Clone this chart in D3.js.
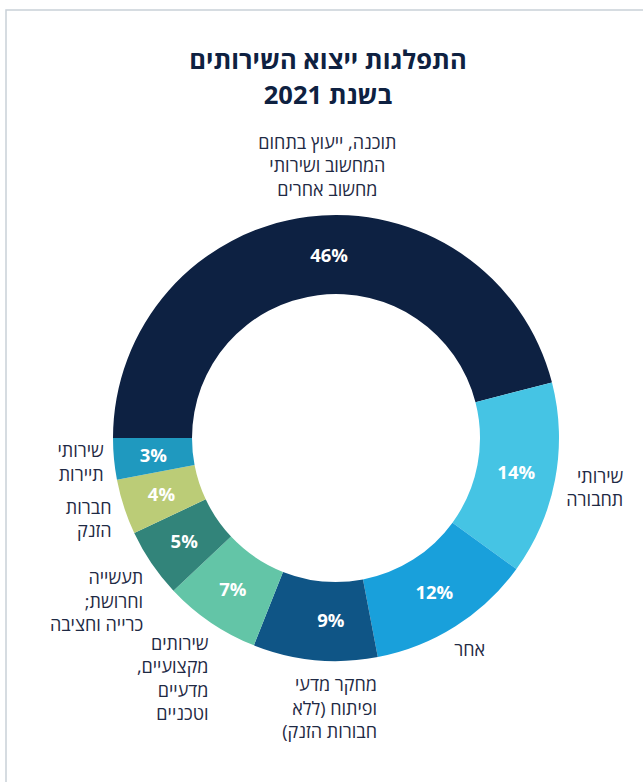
<!DOCTYPE html>
<meta charset="utf-8">
<style>
html, body {
  margin: 0;
  background: #fff;
}

.chart {
  display: block;
  font-family: "Open Sans", "DejaVu Sans", sans-serif;
}

.chart .frame {
  fill: none;
  stroke: #c9d1d8;
  stroke-width: 1.5;
}

.chart .title {
  fill: #0e2141;
  font-size: 25.5px;
  font-weight: 700;
}

.chart .pct {
  fill: #fff;
  font-size: 18.5px;
  font-weight: 700;
}

.chart .cat {
  fill: #1f2a44;
  font-size: 18px;
}
</style>
<body>
<svg class="chart"></svg>

<script src="https://d3js.org/d3.v7.min.js"></script>
<script>
"use strict";

var titleLines = ["התפלגות ייצוא השירותים", "בשנת 2021"];

var categories = [
  ["תוכנה, ייעוץ בתחום", "המחשוב ושירותי", "מחשוב אחרים"],
  ["שירותי", "תחבורה"],
  ["אחר"],
  ["מחקר מדעי", "ופיתוח (ללא", "חבורות הזנק)"],
  ["שירותים", "מקצועיים,", "מדעיים", "וטכניים"],
  ["תעשייה", "וחרושת;", "כרייה וחציבה"],
  ["חברות", "הזנק"],
  ["שירותי", "תיירות"]
];

var values = [46, 14, 12, 9, 7, 5, 4, 3];

var colors = ["#0d2142", "#45c4e4", "#19a0db", "#0f5586", "#63c5a7", "#32847a", "#bbcc77", "#1f99bf"];

var container = { width: 643, height: 782 },
  center = { x: 336, y: 438 },
  outerRadius = 223,
  innerRadius = 144,
  labelGap = 8,
  lineHeight = 23.5;

var svg = d3.select(".chart")
  .attr("width", container.width)
  .attr("height", container.height);

svg.append("rect")
  .attr("class", "frame")
  .attr("x", 6)
  .attr("y", 10)
  .attr("width", 720)
  .attr("height", 820);

var title = svg.append("text")
  .attr("class", "title")
  .attr("direction", "rtl")
  .attr("text-anchor", "middle");

title.selectAll("tspan")
  .data(titleLines)
  .join("tspan")
  .attr("x", 328)
  .attr("y", function(d, i) { return 69 + i * 35; })
  .text(function(d) { return d; });

var pie = d3.pie()
  .sort(null)
  .startAngle(-Math.PI / 2)
  .endAngle(3 * Math.PI / 2);

var arc = d3.arc()
  .innerRadius(innerRadius)
  .outerRadius(outerRadius);

var labelArc = d3.arc()
  .innerRadius((innerRadius + outerRadius) / 2)
  .outerRadius((innerRadius + outerRadius) / 2);

var slices = pie(values).map(function(d, i) {
  d.lines = categories[i];
  d.color = colors[i];
  return d;
});

var donut = svg.append("g")
  .attr("transform", "translate(" + center.x + "," + center.y + ")");

donut.selectAll("path")
  .data(slices)
  .join("path")
  .attr("d", arc)
  .attr("fill", function(d) { return d.color; });

donut.selectAll("text.pct")
  .data(slices)
  .join("text")
  .attr("class", "pct")
  .attr("text-anchor", "middle")
  .attr("dy", "0.35em")
  .attr("transform", function(d) {
    var c = labelArc.centroid(d);
    // labels near the top/bottom sit closer to the vertical axis
    if (Math.abs(c[0]) < 30) c[0] *= 0.3;
    return "translate(" + c + ")";
  })
  .text(function(d) { return d.value + "%"; });

// outside labels: block of right-aligned lines pushed out along the slice's mid angle
var cats = donut.selectAll("g.cat")
  .data(slices)
  .join("g")
  .attr("class", "cat");

cats.each(function(d, i) {
  var g = d3.select(this);
  var centered = i === 0;
  var text = g.append("text")
    .attr("direction", "rtl")
    .attr("text-anchor", centered ? "middle" : "start");
  text.selectAll("tspan")
    .data(d.lines)
    .join("tspan")
    .attr("x", 0)
    .attr("y", function(l, j) { return j * lineHeight; })
    .text(function(l) { return l; });

  var box = text.node().getBBox();
  var a = (d.startAngle + d.endAngle) / 2;
  var sx = Math.sin(a), sy = -Math.cos(a);
  var r = outerRadius + labelGap + Math.abs(sx) * box.width / 2 + Math.abs(sy) * box.height / 2;
  var cx = sx * r, cy = sy * r;
  if (Math.abs(sx) < 0.2) cx *= 0.25;
  var dx = cx - (box.x + box.width / 2),
    dy = cy - (box.y + box.height / 2);
  text.attr("transform", "translate(" + dx + "," + dy + ")");
});
</script>
</body>
